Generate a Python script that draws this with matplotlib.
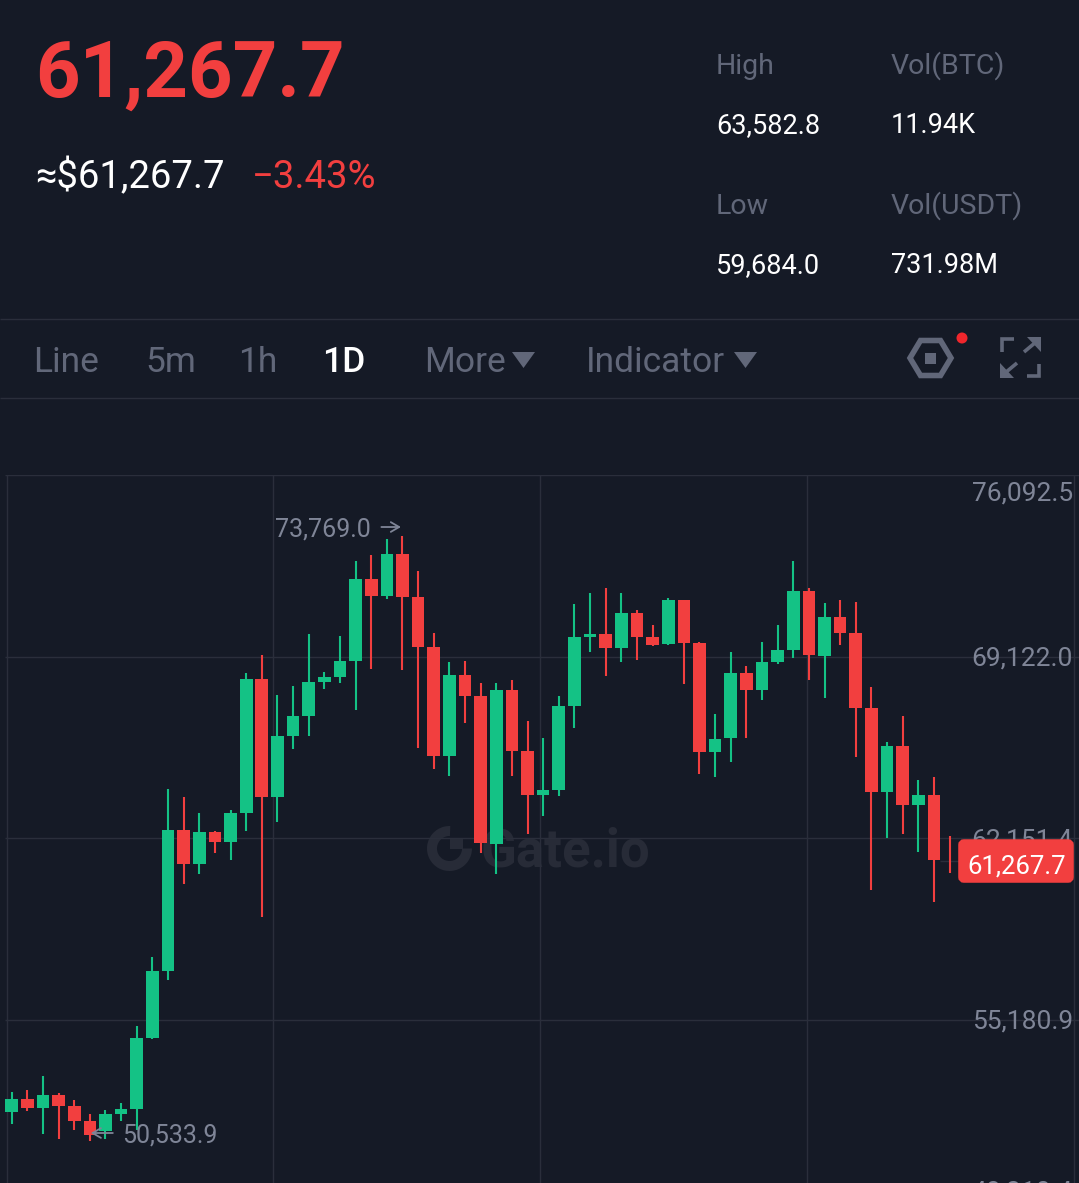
import matplotlib
matplotlib.use('Agg')
import matplotlib.pyplot as plt
from matplotlib.patches import FancyBboxPatch, Polygon, Rectangle, Wedge
from matplotlib.transforms import blended_transform_factory

BG = '#151a26'
GRID = '#2a2e3b'
UP = '#14c285'
DOWN = '#f23f3f'
AXIS_TEXT = '#7f8597'
MUTED = '#616779'
PX = 0.72  # points per pixel at dpi 100

opens = [51640, 52128, 51782, 52270, 51847, 51294, 50887, 51564, 51732, 54482,
         57044, 62447, 61141, 62382, 61998, 63123, 68246, 63726, 66069, 66825,
         68131, 68323, 68949, 72087, 71457, 73070, 71407, 69498, 65312, 68400,
         67616, 61933, 67835, 65504, 63803, 63995, 67210, 69883, 69986, 69460,
         70781, 69859, 69590, 71292, 69652, 65466, 65973, 68488, 67835, 68899,
         69360, 71626, 69152, 70628, 70013, 67133, 63930, 65673, 63431, 63791,
         61270]
highs = [52385, 52485, 53011, 52370, 52078, 51540, 51694, 51974, 54920, 57581,
         64022, 63715, 63123, 62432, 63227, 68500, 69168, 67643, 67989, 69998,
         68527, 69898, 72801, 73020, 73635, 73769.0, 72417, 70036, 68899, 68960,
         68116, 68092, 68208, 66645, 66004, 67616, 71138, 71561, 71753, 71561,
         70908, 70320, 71369, 71292, 69665, 66902, 69295, 68746, 69679, 70332,
         72778, 71753, 71177, 71292, 71227, 67939, 65839, 66837, 64367, 64483,
         62228]
lows = [51168, 51678, 50772, 50603, 50949, 50533.9, 50592, 51283, 50937, 54443,
        56697, 60385, 60769, 61564, 61318, 62409, 59106, 62766, 65558, 66069,
        67874, 68116, 67067, 68630, 71342, 68604, 65608, 64801, 64533, 66568,
        61564, 60769, 64521, 62317, 63008, 63776, 66388, 69295, 68373, 68911,
        68999, 69537, 69570, 68066, 64598, 64494, 65070, 65980, 67463, 68822,
        69064, 68219, 67517, 69564, 65251, 60166, 62140, 62294, 61614, 59684,
        60807]
closes = [52128, 51771, 52270, 51847, 51294, 50745, 51564, 51732, 54482, 57044,
          62447, 61153, 62382, 61998, 63123, 68246, 63726, 66069, 66825, 68131,
          68323, 68949, 72087, 71457, 73070, 71407, 69498, 65312, 68400, 67616,
          61960, 67835, 65504, 63803, 63995, 67210, 69883, 69986, 69460, 70781,
          69859, 69575, 71292, 69652, 65466, 65954, 68488, 67835, 68899, 69360,
          71626, 69168, 70628, 70013, 67133, 63930, 65673, 63431, 63791, 61300,
          61267.7]

price_ticks = [76092.5, 69122.0, 62151.4, 55180.9, 48210.4]
time_ticks = [-0.33, 16.72, 33.8, 50.88, 67.93]

last_price = 61267.7
tabs = [('Line', 33), ('5m', 145), ('1h', 238), ('More', 424), ('Indicator', 586)]
stats = [('High', '63,582.8', 716, 74), ('Vol(BTC)', '11.94K', 891, 74),
         ('Low', '59,684.0', 716, 214), ('Vol(USDT)', '731.98M', 891, 214)]


def draw_watermark(ax):
    color = '#272b37'
    ax.add_patch(Wedge((449.5, 848.5), 22.5, 0, 272, width=10, color=color, lw=0))
    ax.add_patch(Rectangle((450, 838), 13, 10.5, color=color, lw=0))
    ax.text(481, 866, 'Gate.io', color=color, fontsize=38, fontweight='bold',
            va='baseline', ha='left', family='Roboto')


def draw_chart(ax):
    trans = blended_transform_factory(ax.transAxes, ax.transData)
    ax.hlines(price_ticks, 5 / 1079, 1, color=GRID, lw=1, zorder=1, transform=trans)
    ax.vlines(time_ticks, 48902, 76092.5, color=GRID, lw=1, zorder=1)

    x = list(range(len(opens)))
    colors = [UP if c > o else DOWN for o, c in zip(opens, closes)]
    ax.vlines(x, lows, highs, color=colors, lw=1.5, zorder=2)
    heights = [abs(c - o) for o, c in zip(opens, closes)]
    bottoms = [min(o, c) for o, c in zip(opens, closes)]
    ax.bar(x, heights, width=0.81, bottom=bottoms, color=colors, linewidth=0, zorder=3)

    # current price line running out to the badge
    ax.hlines(last_price, x[-1] - 0.6, x[-1] + 2, color=GRID, lw=1, zorder=1)

    # top and bottom labels get pushed inside the plot area, baseline offsets in px
    offsets = [-26, -9, -9, -9, 2]
    for p, off in zip(price_ticks, offsets):
        ax.annotate(f'{p:,.1f}', xy=(1073 / 1079, p), xycoords=trans,
                    xytext=(0, off * PX), textcoords='offset points', color=AXIS_TEXT,
                    fontsize=19, ha='right', va='baseline', family='Roboto', zorder=4,
                    annotation_clip=False)

    high_i = highs.index(max(highs))
    low_i = lows.index(min(lows))
    arrow = dict(arrowstyle='->,head_length=0.6,head_width=0.35', color=AXIS_TEXT,
                 lw=1.3, shrinkA=0, shrinkB=0)

    ax.annotate(f'{max(highs):,.1f}', xy=(high_i, max(highs)), xytext=(-32 * PX, 8.5 * PX),
                textcoords='offset points', ha='right', va='center_baseline',
                color=AXIS_TEXT, fontsize=18, family='Roboto', zorder=5)
    ax.annotate('', xy=(high_i - 0.1, max(highs) + 326),
                xytext=(high_i - 1.35, max(highs) + 326), arrowprops=arrow, zorder=5)

    ax.annotate(f'{min(lows):,.1f}', xy=(low_i, min(lows)), xytext=(32 * PX, 7.5 * PX),
                textcoords='offset points', ha='left', va='center_baseline',
                color=AXIS_TEXT, fontsize=18, family='Roboto', zorder=5)
    ax.annotate('', xy=(low_i + 0.06, min(lows) + 288),
                xytext=(low_i + 1.47, min(lows) + 288), arrowprops=arrow, zorder=5)


def draw_header(ax):
    ax.text(35, 97, f'{last_price:,.1f}', color=DOWN, fontsize=56, fontweight='bold',
            va='baseline', ha='left', family='Roboto')
    ax.text(35, 188, f'≈${last_price:,.1f}', color='white', fontsize=27.5,
            va='baseline', ha='left', family=['Roboto', 'DejaVu Sans'])
    ax.text(252, 188, '−3.43%', color=DOWN, fontsize=27.5, va='baseline', ha='left',
            family='Roboto')
    for name, val, x, y in stats:
        ax.text(x, y, name, color=MUTED, fontsize=20.5, va='baseline', ha='left',
                family='Roboto')
        ax.text(x, y + 59, val, color='white', fontsize=19.5, va='baseline', ha='left',
                family='Roboto')


def draw_tabs(ax):
    ax.hlines([319, 398], 0, 1079, color=GRID, lw=1)
    for name, x in tabs:
        ax.text(x, 372, name, color=MUTED, fontsize=25.5, va='baseline', ha='left',
                family='Roboto')
    ax.text(322, 372, '1D', color='white', fontsize=25.5, fontweight='medium',
            va='baseline', ha='left', family='Roboto')
    for left in [512, 734]:
        ax.add_patch(Polygon([(left, 352), (left + 23, 352), (left + 11.5, 368)],
                             color=MUTED, lw=0))

    # settings hexagon with notification dot
    hexagon = [(910, 358), (920.5, 340.5), (940.5, 340.5), (951, 358),
               (940.5, 375.5), (920.5, 375.5)]
    ax.add_patch(Polygon(hexagon, fill=False, edgecolor=MUTED, lw=4))
    ax.add_patch(Rectangle((925, 353), 11, 10.5, color=MUTED, lw=0))
    ax.add_patch(plt.Circle((962, 338), 5.5, color='#f0262c', lw=0))

    # fullscreen icon, two corner brackets and two arrows
    kw = dict(color=MUTED, lw=2.6, solid_capstyle='butt', solid_joinstyle='miter')
    ax.plot([1002, 1002, 1014], [352, 339, 339], **kw)
    ax.plot([1039, 1039, 1027], [364, 376, 376], **kw)
    ax.plot([1024, 1036], [352, 342], **kw)
    ax.plot([1017, 1005], [363, 373], **kw)
    ax.add_patch(Polygon([(1041, 337), (1041, 352), (1027, 337)], color=MUTED, lw=0))
    ax.add_patch(Polygon([(1000, 363), (1000, 378), (1014, 378)], color=MUTED, lw=0))


def draw_badge(ax):
    ax.add_patch(FancyBboxPatch((961, 842), 110, 38, boxstyle='round,pad=0,rounding_size=3',
                                mutation_aspect=1, facecolor=DOWN, edgecolor=DOWN, lw=4,
                                zorder=6))
    ax.text(1017, 873, f'{last_price:,.1f}', color='white', fontsize=18.5, ha='center',
            va='baseline', family='Roboto', zorder=7)


def run():
    w, h = 1079, 1183
    fig = plt.figure(figsize=(w / 100, h / 100), dpi=100, facecolor=BG)

    back = fig.add_axes([0, 0, 1, 1], zorder=0)
    chart = fig.add_axes([0, 0, 1, (h - 475) / h], zorder=1)
    front = fig.add_axes([0, 0, 1, 1], zorder=2)
    for ax in (back, front):
        ax.set_xlim(0, w)
        ax.set_ylim(h, 0)
        ax.axis('off')

    chart.patch.set_alpha(0)
    chart.set_xlim(-0.749, 68.28)
    chart.set_ylim(48902, 76092.5)
    chart.axis('off')

    draw_watermark(back)
    draw_chart(chart)
    draw_header(front)
    draw_tabs(front)
    draw_badge(front)

    fig.savefig('out.png', dpi=100, facecolor=BG)


if __name__ == "__main__":
    run()
